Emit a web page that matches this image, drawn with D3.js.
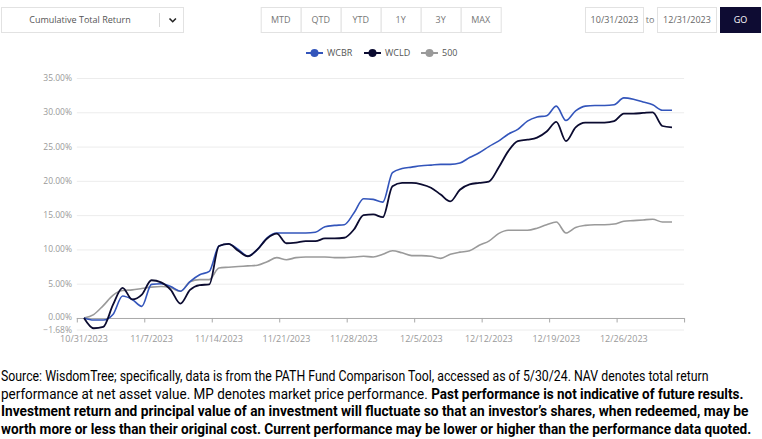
<!DOCTYPE html>
<html><head><meta charset="utf-8">
<script src="https://cdn.jsdelivr.net/npm/d3@7"></script>
<style>body{margin:0;background:#fff;} svg{display:block;}</style>
</head><body><svg id="c" width="762" height="439"></svg>
<script>
// ---- data (calendar days 10/31/2023 .. 12/31/2023) ----
const dates = d3.timeDay.range(new Date(2023, 9, 31), new Date(2024, 0, 1));
const wcbr = [0,-0.3,-0.3,0.5,3.2,2.7,1.7,4.9,5.0,4.6,3.9,5.3,6.3,6.8,10.5,10.8,10.0,9.0,10.0,11.7,
  12.4,12.4,12.4,12.4,12.5,13.3,13.5,13.6,15.3,17.4,17.3,16.9,21.2,21.8,22.0,22.2,22.3,22.4,22.4,22.6,
  23.4,24.1,25.0,25.8,26.8,27.5,28.7,29.3,29.5,30.9,28.8,30.2,30.9,31.0,31.0,31.1,32.1,31.9,31.5,31.1,
  30.3,30.3];
const wcld = [0,-1.5,-1.3,1.9,4.4,2.7,3.4,5.5,5.2,4.1,2.1,4.1,4.8,4.9,10.5,10.8,9.8,9.0,10.0,11.6,
  12.3,10.9,11.0,11.2,11.2,11.6,11.6,11.7,12.9,15.0,15.1,14.7,19.2,19.7,19.7,19.5,19.0,18.0,17.0,18.7,
  19.5,19.7,19.9,21.9,24.3,25.8,26.0,26.3,27.2,28.6,25.8,27.8,28.5,28.5,28.5,28.7,29.8,29.8,29.9,30.0,
  28.0,27.8];
const sp500 = [0,0.5,1.8,3.3,4.0,4.1,4.3,4.5,4.6,4.4,3.9,5.3,5.6,5.6,7.3,7.4,7.5,7.6,7.7,8.2,
  8.8,8.5,8.8,8.9,8.9,8.9,8.8,8.8,8.9,9.0,8.9,9.3,9.8,9.5,9.1,9.1,9.0,8.7,9.3,9.6,
  9.8,10.6,11.2,12.3,12.8,12.8,12.8,13.1,13.6,14.0,12.4,13.2,13.5,13.6,13.6,13.7,14.1,14.2,14.3,14.4,
  14.0,14.0];
const seriesNames = ["WCBR", "WCLD", "500"];
const seriesColors = ["#3355bb", "#0b0b30", "#9a9a9a"];
const yTicks = [-1.68, 0, 5, 10, 15, 20, 25, 30, 35];
const tickDates = d3.timeDay.range(new Date(2023, 9, 31), new Date(2024, 0, 3), 7);
const periodButtons = ["MTD", "QTD", "YTD", "1Y", "3Y", "MAX"];
const dropdownLabel = "Cumulative Total Return";
const fromDate = "10/31/2023", toDate = "12/31/2023";
const footer = [
  [["Source: WisdomTree; specifically, data is from the PATH Fund Comparison Tool, accessed as of 5/30/24. NAV denotes total return", false]],
  [["performance at net asset value. MP denotes market price performance. ", false], ["Past performance is not indicative of future results.", true]],
  [["Investment return and principal value of an investment will fluctuate so that an investor\u2019s shares, when redeemed, may be", true]],
  [["worth more or less than their original cost. Current performance may be lower or higher than the performance data quoted.", true]]
];
const footerWidths = [709, 744, 749, 752];

const svg = d3.select("#c");
const FONT = "'Open Sans', 'Noto Sans', sans-serif";

// ---- header controls ----
const hdr = svg.append("g");
hdr.append("rect").attr("x", 1.5).attr("y", 7.5).attr("width", 182).attr("height", 25)
  .attr("fill", "#fff").attr("stroke", "#e2e2e2");
hdr.append("text").attr("x", 80).attr("y", 20).attr("dy", "0.35em").attr("text-anchor", "middle")
  .attr("font-family", FONT).attr("font-size", 9).attr("fill", "#555").text(dropdownLabel);
hdr.append("line").attr("x1", 159.5).attr("x2", 159.5).attr("y1", 13).attr("y2", 27).attr("stroke", "#d8d8d8");
hdr.append("path").attr("d", "M169.5,18.5 L172.7,21.7 L175.9,18.5").attr("fill", "none")
  .attr("stroke", "#222").attr("stroke-width", 1.6);

const bx = d3.scaleBand().domain(periodButtons).range([260.7, 500.7]);
const btn = hdr.selectAll("g.btn").data(periodButtons).join("g").attr("class", "btn");
btn.append("rect").attr("x", d => bx(d) + 0.5).attr("y", 7.5).attr("width", bx.bandwidth()).attr("height", 25)
  .attr("fill", "#fff").attr("stroke", "#e2e2e2");
btn.append("text").attr("x", d => bx(d) + bx.bandwidth() / 2).attr("y", 20).attr("dy", "0.35em")
  .attr("text-anchor", "middle").attr("font-family", FONT).attr("font-size", 9).attr("fill", "#777").text(d => d);

hdr.append("rect").attr("x", 585.5).attr("y", 7.5).attr("width", 58).attr("height", 25).attr("fill", "#fff").attr("stroke", "#e2e2e2");
hdr.append("text").attr("x", 614.5).attr("y", 20).attr("dy", "0.35em").attr("text-anchor", "middle")
  .attr("font-family", FONT).attr("font-size", 9).attr("fill", "#666").text(fromDate);
hdr.append("text").attr("x", 650).attr("y", 20).attr("dy", "0.35em").attr("text-anchor", "middle")
  .attr("font-family", FONT).attr("font-size", 9).attr("fill", "#777").text("to");
hdr.append("rect").attr("x", 657.5).attr("y", 7.5).attr("width", 59).attr("height", 25).attr("fill", "#fff").attr("stroke", "#e2e2e2");
hdr.append("text").attr("x", 687).attr("y", 20).attr("dy", "0.35em").attr("text-anchor", "middle")
  .attr("font-family", FONT).attr("font-size", 9).attr("fill", "#666").text(toDate);
hdr.append("rect").attr("x", 720).attr("y", 7).attr("width", 41).attr("height", 26).attr("fill", "#0e0c33");
hdr.append("text").attr("x", 740.5).attr("y", 20).attr("dy", "0.35em").attr("text-anchor", "middle")
  .attr("font-family", FONT).attr("font-size", 9).attr("fill", "#fff").text("GO");

// ---- legend ----
const legendX = [306, 364, 421];
const lg = svg.append("g").selectAll("g").data(seriesNames).join("g")
  .attr("transform", (d, i) => `translate(${legendX[i]},53)`);
lg.append("line").attr("x1", 0).attr("x2", 17).attr("stroke", (d, i) => seriesColors[i]).attr("stroke-width", 2);
lg.append("circle").attr("cx", 8.5).attr("r", 4).attr("fill", (d, i) => seriesColors[i]);
lg.append("text").attr("x", 21).attr("dy", "0.35em").attr("font-family", FONT).attr("font-size", 9)
  .attr("fill", "#555").text(d => d);

// ---- scales ----
const x = d3.scaleTime().domain([dates[0], dates[dates.length - 1]]).range([84, 672]);
const y = d3.scaleLinear().domain([-1.68, 35]).range([329.5, 78]);
const tickShift = -7.2;
const axisLeft = x(tickDates[0]) + tickShift, axisRight = x(tickDates[tickDates.length - 1]) + tickShift;

// gridlines
svg.append("g").selectAll("line").data(yTicks.filter(v => v !== 0)).join("line")
  .attr("x1", axisLeft).attr("x2", axisRight).attr("y1", d => y(d) + 0.5).attr("y2", d => y(d) + 0.5)
  .attr("stroke", "#ececec").attr("stroke-width", 1);
// y labels
svg.append("g").selectAll("text").data(yTicks).join("text")
  .attr("x", 72).attr("y", d => d < 0 ? y(d) + 0.5 : (d === 0 ? y(d) - 1 : y(d))).attr("dy", "0.35em").attr("text-anchor", "end")
  .attr("font-family", FONT).attr("font-size", 8.5).attr("fill", "#999")
  .text(d => d3.format(".2f")(d) + "%");

// x axis line and ticks
svg.append("line").attr("x1", axisLeft).attr("x2", axisRight).attr("y1", y(0) + 0.5).attr("y2", y(0) + 0.5)
  .attr("stroke", "#a8a8a8").attr("stroke-width", 1);
svg.append("g").selectAll("line").data(tickDates).join("line")
  .attr("x1", d => x(d) + tickShift + 0.5).attr("x2", d => x(d) + tickShift + 0.5)
  .attr("y1", y(0)).attr("y2", y(0) + 4.5).attr("stroke", "#a8a8a8");
svg.append("g").selectAll("text").data(tickDates.filter(d => d <= dates[dates.length - 1])).join("text")
  .attr("x", d => x(d)).attr("y", 338.5).attr("dy", "0.35em").attr("text-anchor", "middle")
  .attr("font-family", FONT).attr("font-size", 9).attr("fill", "#999")
  .text(d3.timeFormat("%-m/%-d/%Y"));

// ---- lines ----
const allSeries = [wcbr, wcld, sp500];
const line = d3.line().x((d, i) => x(dates[i])).y(d => y(d)).curve(d3.curveMonotoneX);
const drawOrder = [2, 0, 1];
svg.append("g").selectAll("path").data(drawOrder).join("path")
  .attr("d", i => line(allSeries[i])).attr("fill", "none")
  .attr("stroke", i => seriesColors[i]).attr("stroke-width", i => i === 1 ? 1.8 : 1.6)
  .attr("stroke-linejoin", "round");

// ---- footer (condensed to fit widths) ----
const FF = "'Liberation Sans Narrow', 'Roboto', 'Noto Sans', sans-serif";
const ft = svg.append("g");
footer.forEach((parts, li) => {
  const g = ft.append("g");
  const t = g.append("text").attr("x", 0).attr("y", 0)
    .attr("font-family", FF).attr("font-size", 14).attr("fill", "#000");
  parts.forEach(([s, b]) => t.append("tspan").attr("font-weight", b ? "bold" : "normal").text(s));
  const w = t.node().getComputedTextLength();
  const sx = (footerWidths[li] - 1) / w;
  g.attr("transform", `translate(1,${381 + li * 17.5}) scale(${sx},1)`);
});
</script></body></html>
